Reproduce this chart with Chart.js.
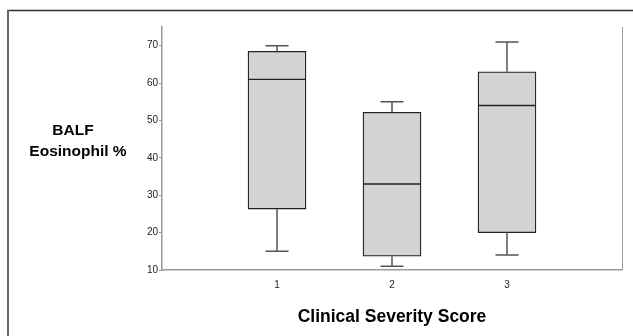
<!DOCTYPE html>
<html>
<head>
<meta charset="utf-8">
<script src="https://cdn.jsdelivr.net/npm/chart.js@4"></script>
<style>
  html, body { margin: 0; padding: 0; background: #fff; }
  #wrap { width: 633px; height: 336px; }
</style>
</head>
<body>
<div id="wrap"><canvas id="myChart" width="633" height="336"></canvas></div>
<script>
// box plot values
const categories = ['1', '2', '3'];
const whiskerLow = [15, 11, 14];
const q1 = [26.3, 13.7, 20];
const median = [61, 33, 54];
const q3 = [68.5, 52.2, 63];
const whiskerHigh = [70, 55, 71];

const yMin = 10;
const yMax = 75;
const yStep = 10;

const yTitle = ['BALF', 'Eosinophil %'];
const xTitle = 'Clinical Severity Score';

// empty slots on both ends so 1,2,3 sit at quarter points of the axis
const labels = [''].concat(categories, ['']);
const boxes = [null].concat(q1.map((v, i) => [v, q3[i]]), [null]);

const boxExtras = {
  id: 'boxExtras',
  afterDatasetsDraw(chart) {
    const ctx = chart.ctx;
    const xs = chart.scales.x;
    const ys = chart.scales.y;
    const meta = chart.getDatasetMeta(0);
    ctx.save();
    categories.forEach((c, i) => {
      const bar = meta.data[i + 1];
      const x = xs.getPixelForValue(i + 1);
      const half = bar.width / 2;
      const cap = 11.5;
      // whiskers
      ctx.strokeStyle = '#555';
      ctx.lineWidth = 1.5;
      ctx.beginPath();
      ctx.moveTo(x, ys.getPixelForValue(whiskerHigh[i]));
      ctx.lineTo(x, ys.getPixelForValue(q3[i]));
      ctx.moveTo(x, ys.getPixelForValue(q1[i]));
      ctx.lineTo(x, ys.getPixelForValue(whiskerLow[i]));
      ctx.moveTo(x - cap, ys.getPixelForValue(whiskerHigh[i]));
      ctx.lineTo(x + cap, ys.getPixelForValue(whiskerHigh[i]));
      ctx.moveTo(x - cap, ys.getPixelForValue(whiskerLow[i]));
      ctx.lineTo(x + cap, ys.getPixelForValue(whiskerLow[i]));
      ctx.stroke();
      // median
      ctx.strokeStyle = '#222';
      ctx.lineWidth = 1.3;
      ctx.beginPath();
      ctx.moveTo(x - half, ys.getPixelForValue(median[i]));
      ctx.lineTo(x + half, ys.getPixelForValue(median[i]));
      ctx.stroke();
    });
    ctx.restore();
  }
};

const frame = {
  id: 'frame',
  beforeDraw(chart) {
    const ctx = chart.ctx;
    const a = chart.chartArea;
    ctx.save();
    // page border, top and left only
    ctx.strokeStyle = '#333';
    ctx.lineWidth = 1.5;
    ctx.beginPath();
    ctx.moveTo(7, 10.5);
    ctx.lineTo(633, 10.5);
    ctx.stroke();
    ctx.strokeStyle = '#666';
    ctx.lineWidth = 2;
    ctx.beginPath();
    ctx.moveTo(8, 10);
    ctx.lineTo(8, 336);
    ctx.stroke();
    // right side of plot frame
    ctx.strokeStyle = '#9a9a9a';
    ctx.lineWidth = 1;
    ctx.beginPath();
    ctx.moveTo(a.right + 0.5, a.top);
    ctx.lineTo(a.right + 0.5, a.bottom);
    ctx.stroke();
    ctx.restore();
  },
  afterDraw(chart) {
    const ctx = chart.ctx;
    ctx.save();
    ctx.fillStyle = '#000';
    ctx.font = 'bold 15.5px Arial, "Liberation Sans", sans-serif';
    ctx.textAlign = 'center';
    ctx.textBaseline = 'middle';
    ctx.fillText(yTitle[0], 73, 131);
    ctx.fillText(yTitle[1], 78, 152);
    ctx.restore();
  }
};

new Chart(document.getElementById('myChart'), {
  type: 'bar',
  data: {
    labels: labels,
    datasets: [{
      data: boxes,
      backgroundColor: '#d3d3d3',
      borderColor: '#222',
      borderWidth: 1.3,
      borderSkipped: false,
      barThickness: 58
    }]
  },
  options: {
    responsive: false,
    animation: false,
    layout: { padding: { left: 0, top: 27, right: 11, bottom: 0 } },
    plugins: { legend: { display: false }, tooltip: { enabled: false } },
    scales: {
      x: {
        offset: false,
        grid: { display: false },
        border: { display: true, color: '#9a9a9a', width: 1.5 },
        ticks: {
          color: '#222',
          font: { family: 'Arial, "Liberation Sans", sans-serif', size: 10 },
          padding: 1,
          maxRotation: 0,
          autoSkip: false
        },
        title: {
          display: true,
          text: xTitle,
          color: '#000',
          font: { family: 'Arial, "Liberation Sans", sans-serif', size: 17.5, weight: 'bold' },
          padding: { top: 0, bottom: 8 }
        },
        afterFit(scale) { scale.height = 66; }
      },
      y: {
        min: yMin,
        max: yMax,
        grid: { drawOnChartArea: false, drawTicks: true, tickLength: 3, color: '#9a9a9a' },
        border: { display: true, color: '#9a9a9a', width: 1.5 },
        ticks: {
          stepSize: yStep,
          includeBounds: false,
          padding: 1,
          color: '#222',
          font: { family: 'Arial, "Liberation Sans", sans-serif', size: 10 }
        },
        afterFit(scale) { scale.width = 162; }
      }
    }
  },
  plugins: [frame, boxExtras]
});
</script>
</body>
</html>
